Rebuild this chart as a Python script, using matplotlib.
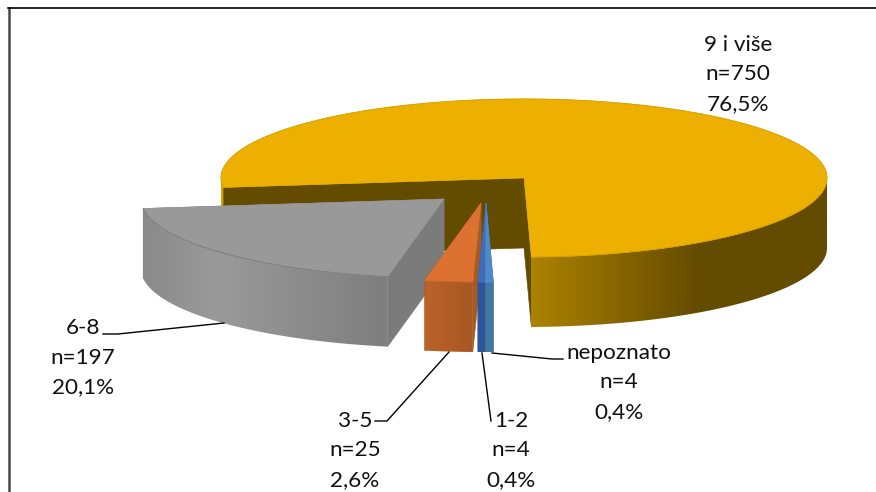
#!/usr/bin/env python3
import numpy as np
import matplotlib
matplotlib.use('Agg')
import matplotlib.pyplot as plt
from matplotlib.colors import LinearSegmentedColormap
from matplotlib.patches import Polygon

# Data
categories = ['9 i više', 'nepoznato', '1-2', '3-5', '6-8']
counts = [750, 4, 4, 25, 197]
percents = ['76,5%', '0,4%', '0,4%', '2,6%', '20,1%']

# Styles, same order as the data
top_colors = ['#EDB000', '#4F8ACB', '#3F6DB8', '#DD7230', '#999999']
wall_colors = ['#634B00', '#3A6DB0', '#2F5597', '#A85A24', '#7B7B7B']
rim_colors = ['#D9A200', '#4F8ACB', '#3F6DB8', '#C96A2B', '#7F7F7F']
# gradient stops of the outer wall: position along the wall, colour
side_stops = [
    [(0, '#AD8200'), (0.57, '#634B00'), (1, '#634B00')],
    [(0, '#45789F'), (1, '#45789F')],
    [(0, '#2F5597'), (1, '#2F5597')],
    [(0, '#BC6229'), (1, '#A65722')],
    [(0, '#8A8A8A'), (0.3, '#9A9A9A'), (1, '#7E7E7E')],
]

# Pie geometry in pixels
W, H = 876, 492
rx, ry, depth = 303, 79, 70
start_angle = 186.9
centers = [(524, 178), (486, 203), (486, 203), (481, 203), (444, 199)]


def rim(center, a0, a1, n=300):
    t = np.radians(np.linspace(a0, a1, n))
    return center[0] + rx * np.cos(t), center[1] - ry * np.sin(t)


def draw_side(ax, center, a0, a1, stops, z):
    # outer wall between angles a0 < a1, filled with a clipped gradient
    x, y = rim(center, a0, a1)
    pts = np.r_[np.c_[x, y], np.c_[x[::-1], y[::-1] + depth]]
    cmap = LinearSegmentedColormap.from_list('side', stops)
    grad = np.linspace(0, 1, 256)[None, :]
    im = ax.imshow(grad, cmap=cmap, aspect='auto', zorder=z, vmin=0, vmax=1,
                   extent=[x.min(), x.max(), y.max() + depth, y.min()])
    clip = Polygon(pts, transform=ax.transData, fc='none', ec='none')
    ax.add_patch(clip)
    im.set_clip_path(clip)


def draw_wall(ax, center, angle, color, z):
    x, y = rim(center, angle, angle, 1)
    pts = [(center[0], center[1]), (x[0], y[0]), (x[0], y[0] + depth), (center[0], center[1] + depth)]
    ax.fill(*zip(*pts), color=color, lw=0.4, zorder=z)


def draw_top(ax, center, a0, a1, color, line, z):
    x, y = rim(center, a0, a1)
    ax.fill(np.r_[center[0], x], np.r_[center[1], y], color=color, lw=0.4, zorder=z)
    ax.plot(x, y, color=line, lw=0.7, zorder=z)


fig = plt.figure(figsize=(W / 100, H / 100), dpi=100)
ax = fig.add_axes([0, 0, 1, 1])

# Slices clockwise from the start angle
total = sum(counts)
angles = start_angle - np.r_[0, np.cumsum(counts)] / total * 360
order = [0, 4, 3, 2, 1]
for z, i in enumerate(order):
    a0, a1 = angles[i], angles[i + 1]
    base = 2 + z * 5
    draw_wall(ax, centers[i], a0, wall_colors[i], base)
    draw_wall(ax, centers[i], a1, wall_colors[i], base)
    if i == 0:
        # the big slice wraps round: front right part and a sliver on the left
        draw_side(ax, centers[i], a1 + 360 - 360, 0, side_stops[i], base + 1)
        draw_side(ax, centers[i], 180, a0, [(0, '#D9A200'), (1, '#D9A200')], base + 1)
    else:
        draw_side(ax, centers[i], a1, a0, side_stops[i], base + 1)
    draw_top(ax, centers[i], a0, a1, top_colors[i], rim_colors[i], base + 2)

# Outline of the picture
ax.plot([9, 9], [492, 8], color='#484848', lw=1.8, zorder=30)
ax.plot([8, 876], [8.3, 8.3], color='black', lw=1.2, zorder=30)

# Leader lines
leaders = [
    [(103, 334), (118, 334), (224, 323)],
    [(375, 421), (387, 421), (449, 352)],
    [(491, 421), (482, 353)],
    [(492, 353), (552, 359), (563, 359)],
]
for pts in leaders:
    ax.plot(*zip(*pts), color='black', lw=1.0, zorder=31)

# Labels: centre x, first baseline
label_pos = [(738, 51), (619, 359), (511, 427), (355, 427), (83, 334)]
plt.rcParams['font.family'] = ['Lato', 'DejaVu Sans']
for i, (x, y) in enumerate(label_pos):
    lines = [categories[i], 'n=%d' % counts[i], percents[i]]
    for k, s in enumerate(lines):
        ax.text(x, y + k * 29.5, s, ha='center', va='baseline', fontsize=16.2, color='#111111', zorder=32)

ax.set_xlim(0, W)
ax.set_ylim(H, 0)
ax.axis('off')

fig.savefig('out.png', dpi=100)
